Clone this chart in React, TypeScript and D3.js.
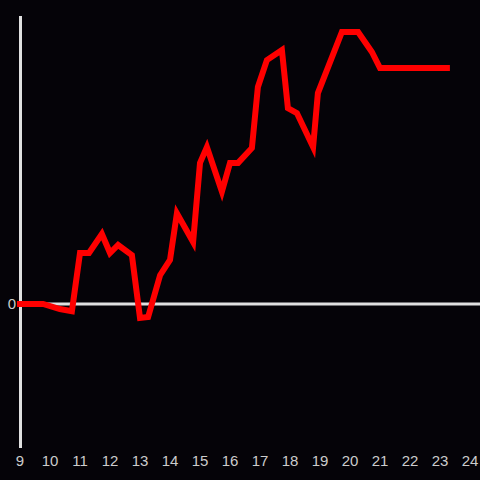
import React from "react";
import * as d3 from "d3";

const hours: number[] = [9, 9.77, 10.33, 10.73, 11.0, 11.3, 11.73, 12.0, 12.27, 12.73, 13.0, 13.27, 13.67, 14.0, 14.23, 14.77, 15.0, 15.23, 15.73, 16.0, 16.27, 16.73, 16.93, 17.23, 17.73, 17.93, 18.23, 18.77, 18.93, 19.73, 20.27, 20.73, 21.0, 23.23];
const values: number[] = [0, 0, -0.035, -0.05, 0.354, 0.354, 0.486, 0.354, 0.41, 0.34, -0.097, -0.09, 0.2, 0.306, 0.63, 0.43, 0.98, 1.09, 0.78, 0.98, 0.98, 1.083, 1.507, 1.694, 1.764, 1.36, 1.326, 1.09, 1.465, 1.889, 1.889, 1.75, 1.639, 1.639];
const xTicks: number[] = [9, 10, 11, 12, 13, 14, 15, 16, 17, 18, 19, 20, 21, 22, 23, 24];
const yTicks: number[] = [0];

export default function App() {
  if (typeof document !== "undefined") document.body.style.margin = "0";
  const W = 480, H = 480;
  const x = d3.scaleLinear().domain([9, 24]).range([20, 470]);
  const y = d3.scaleLinear().domain([-1, 2]).range([448, 16]);
  const data = hours.map((h, i) => [h, values[i]] as [number, number]);
  const line = d3.line<[number, number]>().x(d => x(d[0])).y(d => y(d[1]));
  return (
    <svg width={W} height={H} style={{ display: "block", background: "#050308" }}>
      <rect width={W} height={H} fill="#050308" />
      <line x1={x(9) + 0.5} x2={x(9) + 0.5} y1={y(2)} y2={y(-1)} stroke="#e0e0e0" strokeWidth={3} />
      <line x1={x(9)} x2={W} y1={y(0)} y2={y(0)} stroke="#e0e0e0" strokeWidth={3} />
      <path d={line(data) || ""} fill="none" stroke="#ff0000" strokeWidth={6} strokeLinejoin="miter" strokeLinecap="square" />
      {xTicks.map(t => (
        <text key={t} x={x(t)} y={466} textAnchor="middle" fill="#cccccc" fontFamily="Liberation Sans, Arial, sans-serif" fontSize={15}>{t}</text>
      ))}
      {yTicks.map(t => (
        <text key={t} x={16} y={y(t)} dy="0.36em" textAnchor="end" fill="#cccccc" fontFamily="Liberation Sans, Arial, sans-serif" fontSize={15}>{t}</text>
      ))}
    </svg>
  );
}
